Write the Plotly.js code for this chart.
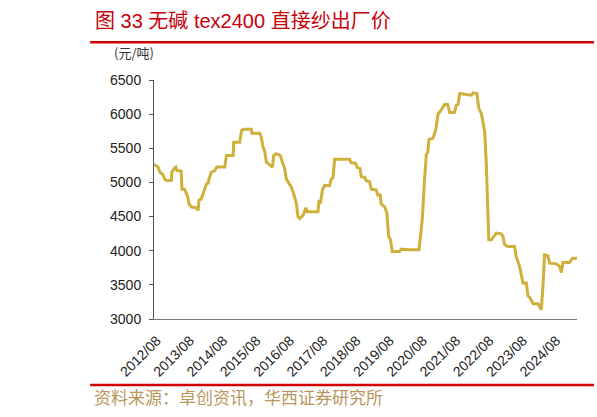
<!DOCTYPE html>
<html>
<head>
<meta charset="utf-8">
<script src="https://cdn.plot.ly/plotly-3.0.1.min.js"></script>
<style>
  html, body { margin: 0; padding: 0; background: #fff; }
  #chart { width: 597px; height: 417px; }
</style>
</head>
<body>
<div id="chart"></div>
<script>
// 无碱 tex2400 直接纱出厂价 (元/吨)
var dates = [
  '2012-07-01', '2012-08-13', '2012-09-04', '2012-10-01', '2012-10-28', '2012-11-13',
  '2013-01-07', '2013-01-13', '2013-02-13', '2013-02-25', '2013-03-10', '2013-04-25',
  '2013-05-04', '2013-06-01', '2013-06-22', '2013-07-07', '2013-07-19', '2013-08-16',
  '2013-10-10', '2013-10-28', '2013-11-07', '2013-12-01', '2013-12-22', '2014-01-10',
  '2014-01-28', '2014-02-15', '2014-02-24', '2014-03-22', '2014-04-28', '2014-05-22',
  '2014-08-16', '2014-09-04', '2014-11-16', '2014-11-22', '2015-01-28', '2015-02-16',
  '2015-03-10', '2015-06-04', '2015-06-10', '2015-09-04', '2015-09-22', '2015-10-10',
  '2015-10-28', '2015-11-16', '2015-12-22', '2016-01-22', '2016-02-04', '2016-02-28',
  '2016-04-16', '2016-05-16', '2016-06-04', '2016-06-22', '2016-07-28', '2016-08-16',
  '2016-09-10', '2016-10-10', '2016-10-28', '2016-11-16', '2016-12-22', '2017-01-22',
  '2017-02-07', '2017-06-04', '2017-06-16', '2017-07-01', '2017-07-22', '2017-08-16',
  '2017-10-10', '2017-10-28', '2017-11-16', '2017-11-28', '2017-12-04', '2018-05-16',
  '2018-06-04', '2018-07-22', '2018-08-07', '2018-09-07', '2018-09-22', '2018-10-28',
  '2018-11-16', '2018-12-22', '2019-01-10', '2019-03-04', '2019-03-22', '2019-04-19',
  '2019-04-28', '2019-06-04', '2019-07-01', '2019-07-19', '2019-08-07', '2019-08-28',
  '2019-11-16', '2019-12-04', '2020-03-04', '2020-06-16', '2020-07-01', '2020-07-22',
  '2020-08-16', '2020-09-04', '2020-09-22', '2020-10-04', '2020-11-16', '2020-12-16',
  '2021-01-13', '2021-02-01', '2021-03-25', '2021-04-28', '2021-05-19', '2021-07-10',
  '2021-08-01', '2021-08-19', '2021-09-07', '2021-11-01', '2021-12-07', '2022-01-13',
  '2022-02-01', '2022-03-13', '2022-04-04', '2022-05-01', '2022-05-19', '2022-06-07',
  '2022-06-25', '2022-07-10', '2022-07-22', '2022-08-19', '2022-09-07', '2022-10-13',
  '2022-12-07', '2022-12-25', '2023-01-13', '2023-02-19', '2023-05-01', '2023-05-19',
  '2023-06-25', '2023-08-01', '2023-09-07', '2023-09-25', '2023-10-19', '2023-11-19',
  '2024-01-13', '2024-02-19', '2024-03-07', '2024-03-25', '2024-05-01', '2024-05-19',
  '2024-08-01', '2024-09-07', '2024-09-25', '2024-10-13', '2024-12-25', '2025-01-25',
  '2025-03-16'
];
var prices = [
  5260, 5230, 5150, 5125, 5050, 5030,
  5030, 5150, 5215, 5225, 5175, 5165,
  4900, 4900, 4835, 4785, 4690, 4640,
  4630, 4590, 4740, 4760, 4835, 4930,
  4980, 4990, 5050, 5150, 5175, 5225,
  5225, 5395, 5395, 5590, 5590, 5755,
  5780, 5780, 5720, 5720, 5660, 5515,
  5465, 5295, 5250, 5225, 5395, 5420,
  5395, 5270, 5200, 5050, 4980, 4930,
  4835, 4690, 4495, 4470, 4520, 4630,
  4570, 4570, 4740, 4690, 4885, 4955,
  4955, 5050, 5070, 5310, 5338, 5338,
  5288, 5280, 5221, 5207, 5084, 5074,
  5025, 5011, 4900, 4890, 4816, 4816,
  4685, 4646, 4549, 4207, 4169, 3988,
  3988, 4023, 4013, 4013, 4169, 4451,
  5036, 5401, 5450, 5630, 5645, 5766,
  6010, 6034, 6142, 6142, 6025, 6025,
  6132, 6142, 6302, 6292, 6278, 6278,
  6312, 6302, 6083, 6010, 5888, 5741,
  5280, 4792, 4159, 4159, 4200, 4257,
  4247, 4208, 4086, 4061, 4061, 3915,
  3769, 3526, 3526, 3341, 3307, 3224,
  3224, 3136, 3476, 3940, 3925, 3818,
  3808, 3769, 3681, 3827, 3827, 3891,
  3891
];

var tickDates = ['2012-08-01', '2013-08-01', '2014-08-01', '2015-08-01', '2016-08-01',
  '2017-08-01', '2018-08-01', '2019-08-01', '2020-08-01', '2021-08-01', '2022-08-01',
  '2023-08-01', '2024-08-01'];
var tickLabels = ['2012/08', '2013/08', '2014/08', '2015/08', '2016/08', '2017/08',
  '2018/08', '2019/08', '2020/08', '2021/08', '2022/08', '2023/08', '2024/08'];

var yTicks = [3000, 3500, 4000, 4500, 5000, 5500, 6000, 6500];

var titleText = '图 33 无碱 tex2400 直接纱出厂价';
var unitText = '(元/吨)';
var sourceText = '资料来源：卓创资讯，华西证券研究所';

var fontFam = 'Liberation Sans, Arial, Noto Sans CJK SC, sans-serif';

var trace1 = {
  x: dates,
  y: prices,
  type: 'scatter',
  mode: 'lines',
  line: { color: '#CFB03A', width: 3 },
  hoverinfo: 'skip'
};

var layout = {
  width: 597,
  height: 417,
  margin: { l: 154, r: 20, t: 80, b: 98 },
  paper_bgcolor: '#ffffff',
  plot_bgcolor: '#ffffff',
  showlegend: false,
  font: { family: fontFam, size: 14, color: '#222' },
  xaxis: {
    type: 'date',
    range: ['2012-07-01', '2025-03-16'],
    tickvals: tickDates,
    ticktext: tickLabels,
    tickangle: -45,
    ticklabelstandoff: 7,
    showgrid: false,
    zeroline: false,
    showline: true,
    linecolor: '#777',
    linewidth: 1,
    ticks: '',
    tickfont: { family: fontFam, size: 14, color: '#222' }
  },
  yaxis: {
    range: [3000, 6500],
    tickvals: yTicks,
    ticklabelstandoff: 5,
    showgrid: false,
    zeroline: false,
    showline: true,
    linecolor: '#555',
    linewidth: 1,
    ticks: 'outside',
    ticklen: 4,
    tickcolor: '#555',
    tickfont: { family: fontFam, size: 14, color: '#222' }
  },
  shapes: [
    { type: 'line', xref: 'paper', yref: 'paper', x0: -0.151, x1: 1.04, y0: 1.158, y1: 1.158,
      line: { color: '#D00000', width: 2.5 } },
    { type: 'line', xref: 'paper', yref: 'paper', x0: -0.151, x1: 1.04, y0: -0.276, y1: -0.276,
      line: { color: '#D00000', width: 2.5 } }
  ],
  annotations: [
    { text: titleText, xref: 'paper', yref: 'paper', x: -0.144, y: 1.247,
      xanchor: 'left', yanchor: 'middle', showarrow: false,
      font: { family: fontFam, size: 20, color: '#C8000A' } },
    { text: unitText, xref: 'paper', yref: 'paper', x: -0.099, y: 1.113,
      xanchor: 'left', yanchor: 'middle', showarrow: false,
      font: { family: 'Noto Sans CJK SC, sans-serif', size: 13, color: '#333' } },
    { text: sourceText, xref: 'paper', yref: 'paper', x: -0.147, y: -0.326,
      xanchor: 'left', yanchor: 'middle', showarrow: false,
      font: { family: 'Noto Sans CJK SC, sans-serif', size: 17, color: '#B8975E' } }
  ]
};

Plotly.newPlot('chart', [trace1], layout, { displayModeBar: false, staticPlot: true });
</script>
</body>
</html>
